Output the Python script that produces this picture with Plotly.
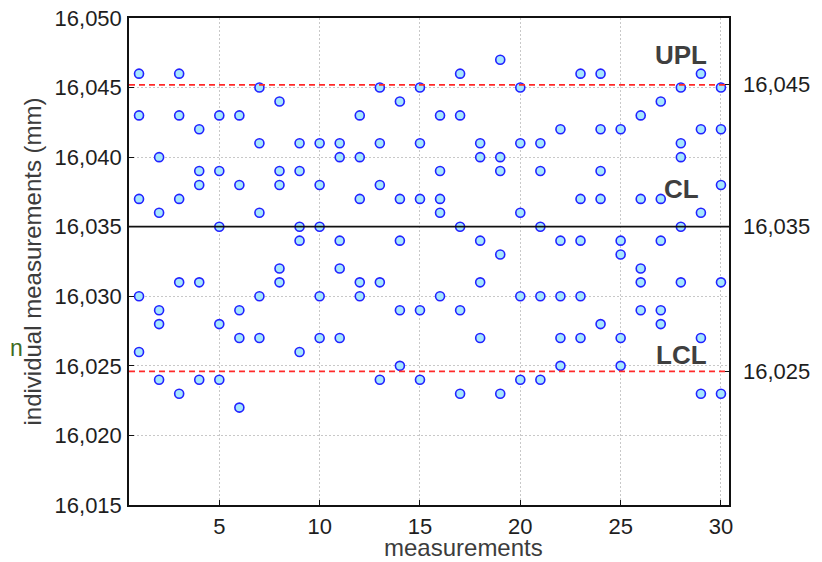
import plotly.graph_objects as go

# ---- data ----
measurement_no = list(range(1, 31))
sample_1 = [16.046, 16.040, 16.046, 16.042, 16.043, 16.043, 16.045, 16.044, 16.041, 16.041,
            16.041, 16.043, 16.045, 16.044, 16.045, 16.043, 16.046, 16.041, 16.047, 16.045,
            16.041, 16.042, 16.046, 16.046, 16.042, 16.043, 16.044, 16.045, 16.046, 16.045]
sample_2 = [16.043, 16.036, 16.043, 16.039, 16.039, 16.038, 16.041, 16.039, 16.039, 16.038,
            16.040, 16.040, 16.041, 16.037, 16.041, 16.039, 16.043, 16.040, 16.040, 16.041,
            16.039, 16.034, 16.037, 16.042, 16.034, 16.037, 16.037, 16.041, 16.042, 16.042]
sample_3 = [16.037, 16.029, 16.037, 16.038, 16.035, 16.029, 16.036, 16.038, 16.035, 16.035,
            16.034, 16.037, 16.038, 16.034, 16.037, 16.037, 16.035, 16.034, 16.039, 16.036,
            16.035, 16.030, 16.034, 16.039, 16.033, 16.032, 16.034, 16.040, 16.036, 16.038]
sample_4 = [16.030, 16.028, 16.031, 16.031, 16.028, 16.027, 16.030, 16.032, 16.034, 16.030,
            16.032, 16.031, 16.031, 16.029, 16.029, 16.036, 16.029, 16.031, 16.033, 16.030,
            16.030, 16.027, 16.030, 16.037, 16.027, 16.031, 16.029, 16.035, 16.027, 16.031]
sample_5 = [16.026, 16.024, 16.023, 16.024, 16.024, 16.022, 16.027, 16.031, 16.026, 16.027,
            16.027, 16.030, 16.024, 16.025, 16.024, 16.030, 16.023, 16.027, 16.023, 16.024,
            16.024, 16.025, 16.027, 16.028, 16.025, 16.029, 16.028, 16.031, 16.023, 16.023]

UPL = 16.0452
CL = 16.035
LCL = 16.0246
control_labels = ["UPL", "CL", "LCL"]
right_tick_vals = [UPL, CL, LCL]
right_tick_text = ["16,045", "16,035", "16,025"]
x_tick_vals = [5, 10, 15, 20, 25, 30]
y_tick_vals = [16.015, 16.020, 16.025, 16.030, 16.035, 16.040, 16.045, 16.050]
y_range = [16.015, 16.050]
x_range = [0.5, 30.4]
x_title = "measurements"
y_title = "individual measurements (mm)"

samples = [sample_1, sample_2, sample_3, sample_4, sample_5]

fig = go.Figure()
for s in samples:
    fig.add_trace(go.Scatter(
        x=measurement_no, y=s, mode="markers",
        marker=dict(symbol="circle", size=9, color="#a6e6fd",
                    line=dict(color="#2222ff", width=1.6)),
        showlegend=False, hoverinfo="x+y", cliponaxis=False))

# invisible trace to anchor the right axis
fig.add_trace(go.Scatter(x=[measurement_no[0]], y=[CL], yaxis="y2", mode="markers",
                         marker=dict(opacity=0), showlegend=False, hoverinfo="skip"))

# control lines
for val, col, dash in [(UPL, "#ff2a2a", "6px,4px"), (LCL, "#ff2a2a", "6px,4px"),
                       (CL, "#111111", "solid")]:
    fig.add_shape(type="line", xref="x domain", x0=0, x1=1, yref="y", y0=val, y1=val,
                  line=dict(color=col, width=1.7, dash=dash), layer="above")

sans = "Liberation Sans, Arial, sans-serif"
tickfont = dict(family=sans, size=22, color="#1e1e1e")
titlefont = dict(family=sans, size=24, color="#3c3c3c")

label_pos = {"UPL": 0.924, "CL": 0.649, "LCL": 0.308}
for lab in control_labels:
    fig.add_annotation(xref="paper", yref="paper", x=0.92, y=label_pos[lab],
                       text="<b>%s</b>" % lab, showarrow=False,
                       font=dict(family=sans, size=26, color="#3f3f3f"),
                       xanchor="center", yanchor="middle")

# x-axis title (placed as in the reference, right of centre)
fig.add_annotation(xref="paper", yref="paper", x=0.557, y=-0.117, text=x_title,
                   showarrow=False, font=titlefont, xanchor="center", yanchor="bottom",
                   borderpad=0)

# cut-off fragment at far left
fig.add_annotation(xref="paper", yref="paper", x=-0.2017, y=0.322, text="n", showarrow=False,
                   font=dict(family=sans, size=23, color="#3d6b1f"),
                   xanchor="left", yanchor="middle")

# the page body adds an 8px offset, so the figure is 8px smaller than the window
fig.update_layout(
    width=814, height=554,
    margin=dict(l=121, r=93, t=10, b=57, autoexpand=False),
    paper_bgcolor="white", plot_bgcolor="white",
    separators=",.",
    xaxis=dict(range=x_range, tickvals=x_tick_vals, ticks="inside", ticklen=5,
               tickcolor="#111111", tickwidth=1.2, automargin=False,
               showline=True, linecolor="#111111", linewidth=1.5, mirror=True,
               showgrid=True, gridcolor="#c8c8c8", griddash="2px,2px", gridwidth=1,
               zeroline=False, tickfont=tickfont, ticklabelstandoff=1,
               ticklabeloverflow="allow"),
    yaxis=dict(range=y_range, tickvals=y_tick_vals, tickformat=".3f",
               ticks="inside", ticklen=5, tickcolor="#111111", tickwidth=1.2,
               automargin=False, ticklabeloverflow="allow",
               showline=True, linecolor="#111111", linewidth=1.5, mirror=True,
               showgrid=True, gridcolor="#c8c8c8", griddash="2px,2px", gridwidth=1,
               zeroline=False, tickfont=tickfont, ticklabelstandoff=1,
               title=dict(text=y_title, font=titlefont, standoff=6)),
    yaxis2=dict(range=y_range, overlaying="y", side="right", tickvals=right_tick_vals,
                ticktext=right_tick_text, ticks="inside", ticklen=5, tickcolor="#111111",
                tickwidth=1.2, showgrid=False, zeroline=False, showline=False,
                automargin=False, tickfont=tickfont, ticklabelstandoff=13,
                ticklabeloverflow="allow"),
)

fig.write_html("out.html")
